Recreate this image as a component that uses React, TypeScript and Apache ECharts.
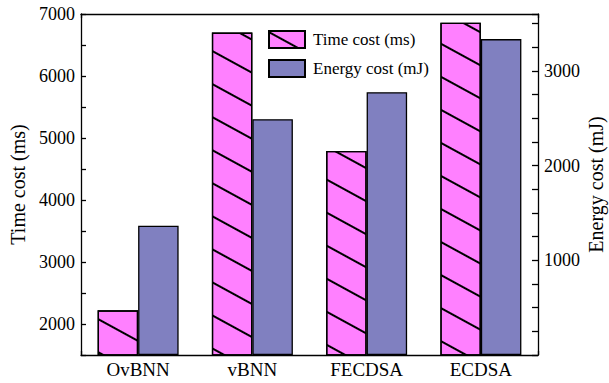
import React, { useEffect, useRef } from "react";
import * as echarts from "echarts";

const categories = ["OvBNN", "vBNN", "FECDSA", "ECDSA"];
const timeCost = [2220, 6700, 4790, 6860];
const energyCost = [1365, 2490, 2775, 3335];
const seriesNames = ["Time cost (ms)", "Energy cost (mJ)"];
const leftAxisName = "Time cost (ms)";
const rightAxisName = "Energy cost (mJ)";

const FONT = "'Times New Roman', 'Liberation Serif', serif";
const PINK = "#FF80FF";
const PURPLE = "#8080C0";

export default function App() {
  const ref = useRef<HTMLDivElement>(null);
  useEffect(() => {
    if (!ref.current) return;
    const chart = echarts.init(ref.current, null, { renderer: "svg" });
    const axisLine = { show: true, lineStyle: { color: "#000", width: 1.3 } };
    chart.setOption({
      animation: false,
      backgroundColor: "#fff",
      grid: { left: 81, right: 71, top: 14, bottom: 28, outerBoundsMode: "none", containLabel: false },
      legend: {
        orient: "vertical",
        left: 268,
        top: 30,
        padding: 0,
        itemWidth: 36,
        itemHeight: 17,
        itemGap: 10,
        icon: "rect",
        textStyle: { fontFamily: FONT, fontSize: 17, color: "#000", padding: [0, 0, 0, 3] },
        data: seriesNames,
      },
      xAxis: [
        {
          type: "category",
          data: categories,
          position: "bottom",
          axisLine,
          axisTick: {
            show: true,
            inside: true,
            length: 4,
            interval: (i: number) => i === 2,
            lineStyle: { color: "#000", width: 1.3 },
          },
          axisLabel: { fontFamily: FONT, fontSize: 19, color: "#000", margin: 5 },
        },
        {
          type: "category",
          data: categories,
          position: "top",
          axisLine,
          axisTick: {
            show: true,
            inside: true,
            length: 4,
            interval: (i: number) => i === 2,
            lineStyle: { color: "#000", width: 1.3 },
          },
          axisLabel: { show: false },
        },
      ],
      yAxis: [
        {
          type: "value",
          position: "left",
          min: 1500,
          max: 7000,
          interval: 500,
          name: leftAxisName,
          nameLocation: "middle",
          nameRotate: 90,
          nameGap: 53,
          nameMoveOverlap: false,
          nameTextStyle: { fontFamily: FONT, fontSize: 20, color: "#000" },
          axisLine,
          axisTick: { show: true, inside: true, length: 5, lineStyle: { color: "#000", width: 1.3 } },
          axisLabel: {
            fontFamily: FONT,
            fontSize: 18,
            color: "#000",
            margin: 6,
            formatter: (v: number) => (v % 1000 === 0 ? String(v) : ""),
          },
          splitLine: { show: false },
        },
        {
          type: "value",
          position: "right",
          min: 0,
          max: 3600,
          interval: 250,
          name: rightAxisName,
          nameLocation: "middle",
          nameRotate: 90,
          nameGap: 48,
          nameMoveOverlap: false,
          nameTextStyle: { fontFamily: FONT, fontSize: 20, color: "#000" },
          axisLine,
          axisTick: { show: true, inside: true, length: 6, lineStyle: { color: "#000", width: 1.3 } },
          axisLabel: {
            fontFamily: FONT,
            fontSize: 18,
            color: "#000",
            margin: 6,
            formatter: (v: number) => (v > 0 && v % 1000 === 0 ? String(v) : ""),
          },
          splitLine: { show: false },
        },
      ],
      series: [
        {
          name: seriesNames[0],
          type: "bar",
          xAxisIndex: 0,
          yAxisIndex: 0,
          data: timeCost,
          barWidth: 40.5,
          barGap: "0%",
          itemStyle: {
            color: PINK,
            borderColor: "#000",
            borderWidth: 1.3,
            decal: {
              symbol: "rect",
              symbolSize: 1,
              color: "#000",
              dashArrayX: [1, 0],
              dashArrayY: [1.4, 26.5],
              rotation: 0.5,
            },
          },
        },
        {
          name: seriesNames[1],
          type: "bar",
          xAxisIndex: 0,
          yAxisIndex: 1,
          data: energyCost,
          barWidth: 40.5,
          barGap: "0%",
          itemStyle: { color: PURPLE, borderColor: "#000", borderWidth: 1.3 },
        },
      ],
    });
    return () => chart.dispose();
  }, []);
  return (
    <div
      ref={ref}
      style={{ position: "fixed", left: 0, top: 0, width: 609, height: 383, background: "#fff" }}
    />
  );
}
